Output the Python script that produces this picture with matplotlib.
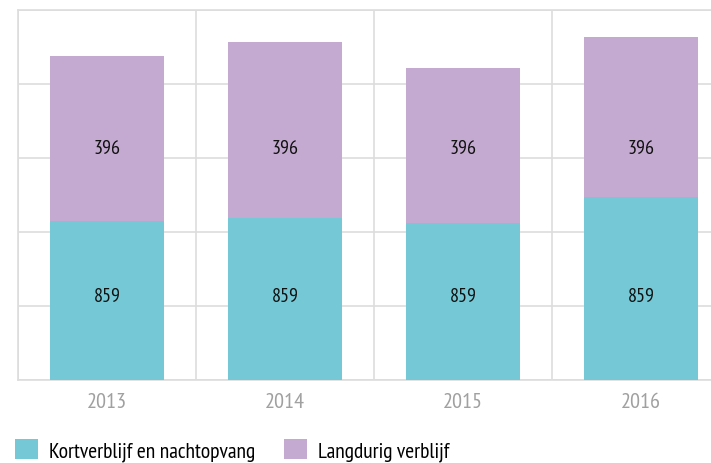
import numpy as np
import matplotlib
matplotlib.use('Agg')
import matplotlib.pyplot as plt
from matplotlib.patches import Patch

# data
years = ['2013', '2014', '2015', '2016']
kort = [430, 438, 425, 495]
lang = [445, 476, 418, 432]
kort_labels = ['859', '859', '859', '859']
lang_labels = ['396', '396', '396', '396']
series_names = ['Kortverblijf en nachtopvang', 'Langdurig verblijf']

c_kort = '#75C8D5'
c_lang = '#C4A9D0'
c_grid = '#DDDDDD'

plt.rcParams['font.family'] = ['PT Sans Narrow', 'DejaVu Sans']

fig = plt.figure(figsize=(7.11, 4.64), dpi=100)
ax = fig.add_axes([18 / 711, 83 / 464, 712 / 711, 370 / 464])

x = np.arange(len(years))
ax.bar(x, kort, width=0.646, color=c_kort, zorder=3)
ax.bar(x, lang, width=0.646, bottom=kort, color=c_lang, zorder=3)

for i in x:
    ax.text(i, 226, kort_labels[i], ha='center', va='center', fontsize=14.5, color='#111111', zorder=4)
    ax.text(i, 626, lang_labels[i], ha='center', va='center', fontsize=14.5, color='#111111', zorder=4)

ax.set_xlim(-0.5, 3.5)
ax.set_ylim(0, 1000)
ax.set_yticks(np.arange(0, 1001, 200))
ax.set_yticklabels([])
ax.set_xticks(x)
ax.set_xticklabels(years, fontsize=16, color='#A0A0A0')
ax.set_xticks(np.arange(-0.5, 3.6, 1), minor=True)
ax.tick_params(axis='both', which='both', length=0)
ax.tick_params(axis='x', pad=9)
ax.grid(True, axis='y', color=c_grid, linewidth=1.2, zorder=0)
ax.grid(True, axis='x', which='minor', color=c_grid, linewidth=1.2, zorder=0)
for s in ax.spines.values():
    s.set_color(c_grid)
    s.set_linewidth(1.2)

handles = [Patch(facecolor=c_kort), Patch(facecolor=c_lang)]
fig.legend(handles, series_names, loc='lower left', bbox_to_anchor=(0.018, 0.0),
           ncol=2, frameon=False, fontsize=15.5, handlelength=1.07, handleheight=1.07,
           handletextpad=0.5, columnspacing=1.35, borderaxespad=0, borderpad=0.1)

fig.savefig('out.png', dpi=100)
